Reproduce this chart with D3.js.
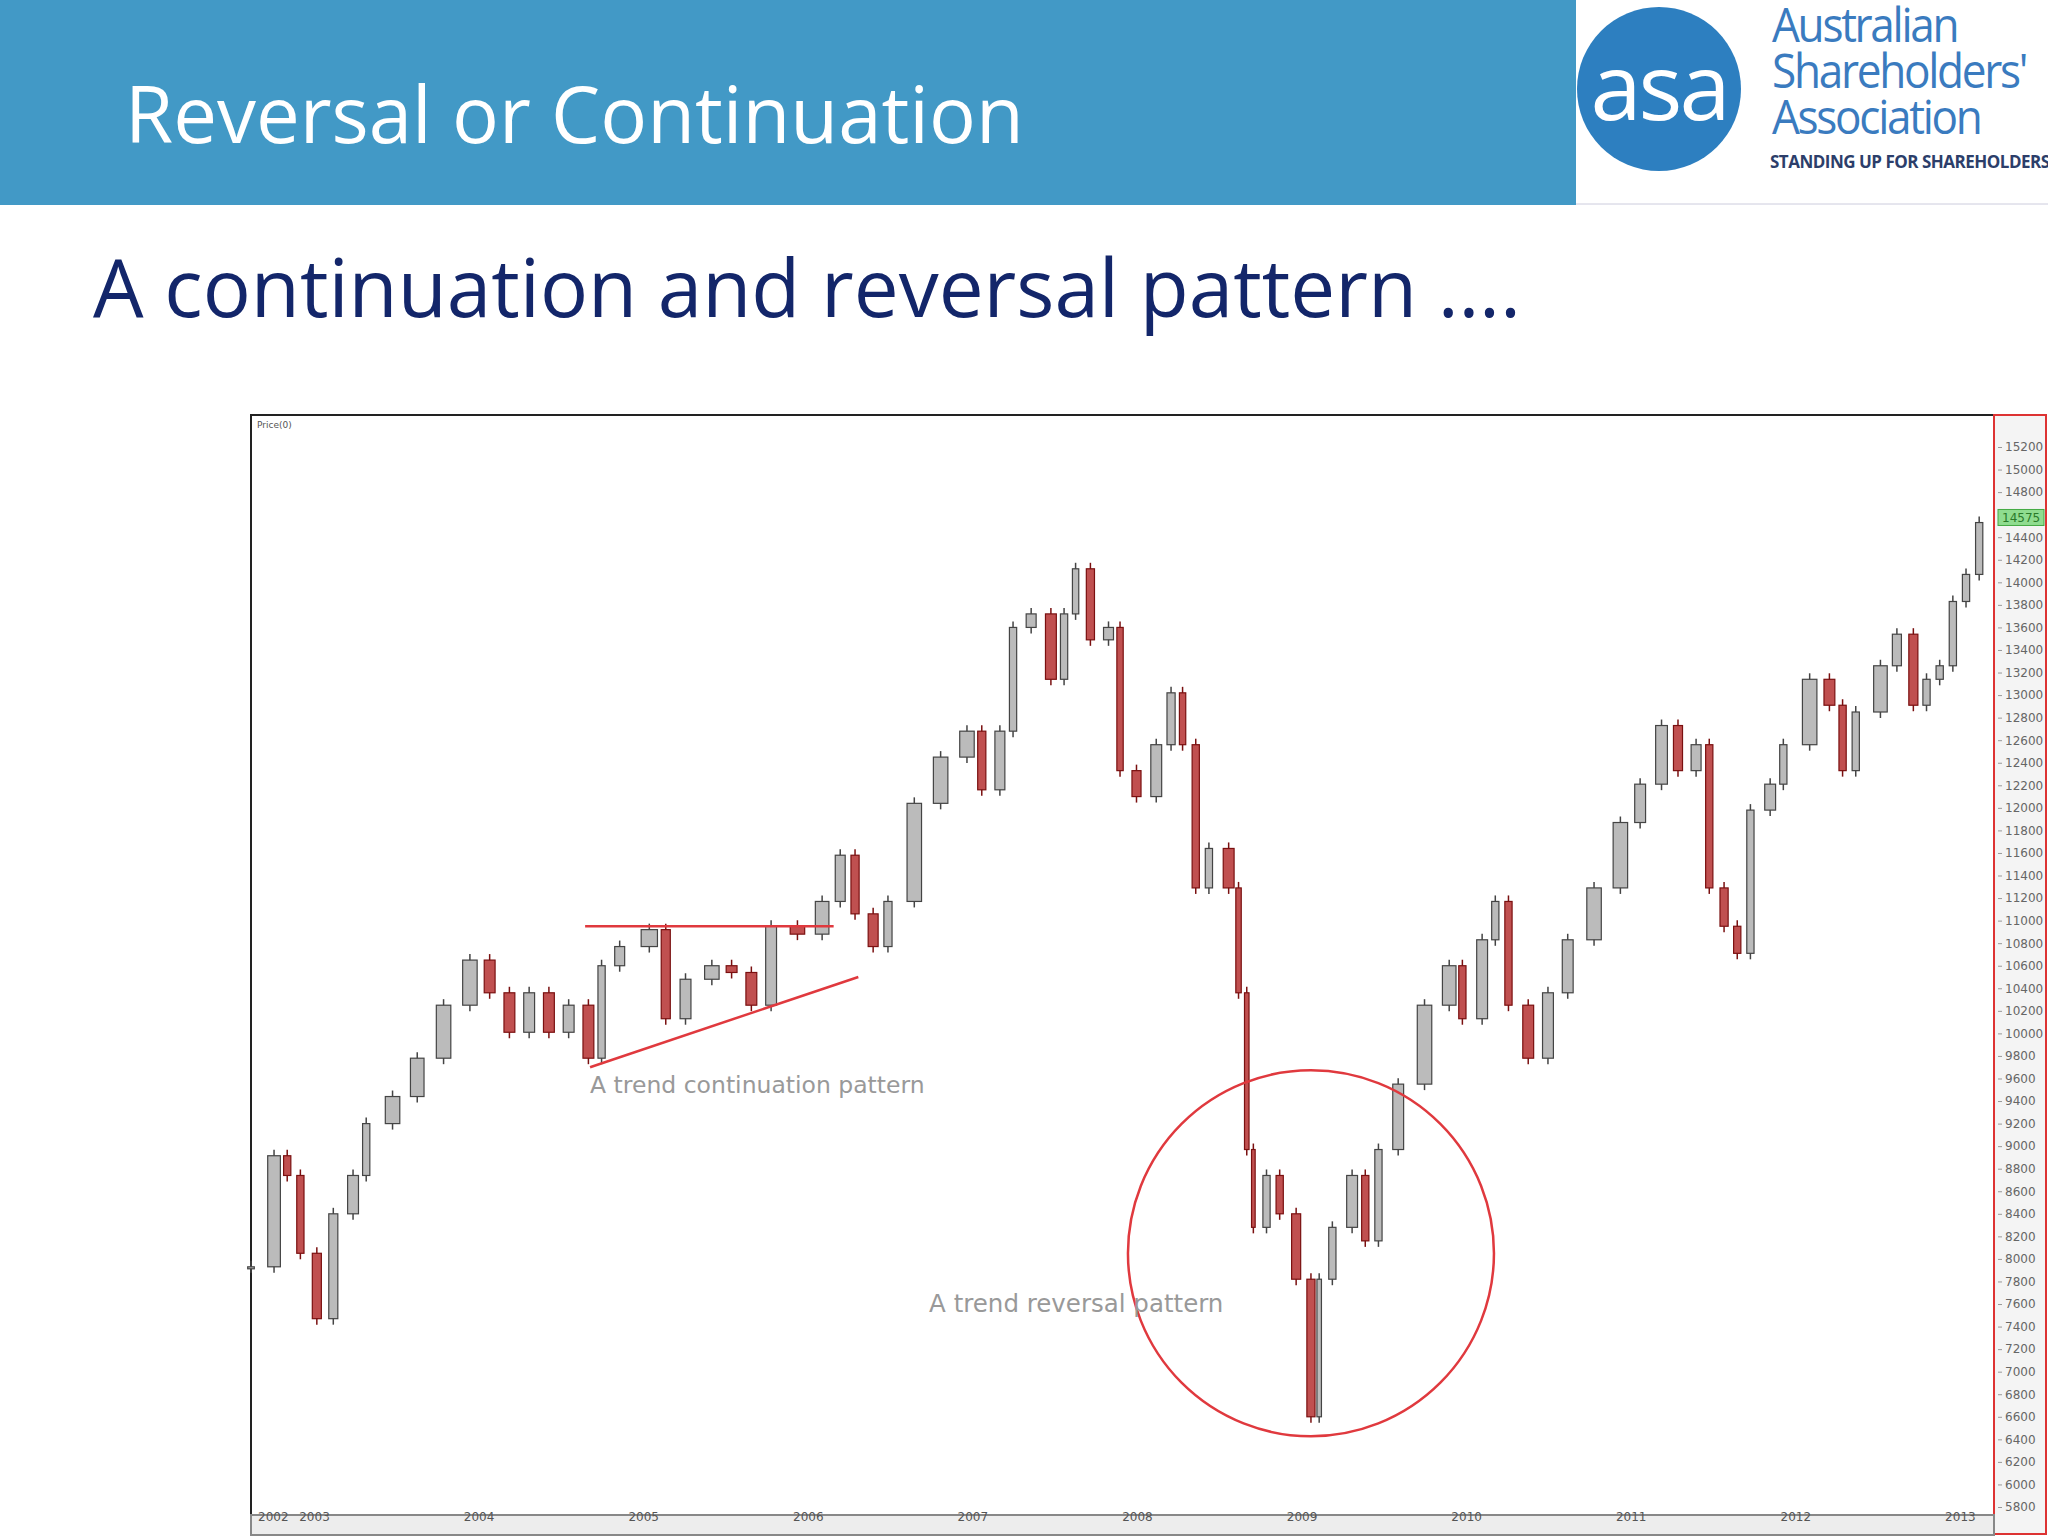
<!DOCTYPE html>
<html><head><meta charset="utf-8">
<script src="https://cdn.jsdelivr.net/npm/d3@7"></script>
<style>body{margin:0;background:#fff}svg{display:block}</style>
</head><body>
<svg id="c" width="2048" height="1536"></svg>
<script>
const years = [2002.66,2002.80,2002.88,2002.96,2003.06,2003.16,2003.28,2003.36,2003.52,2003.67,2003.83,2003.99,2004.11,2004.23,2004.35,2004.47,2004.59,2004.71,2004.79,2004.90,2005.08,2005.18,2005.30,2005.46,2005.58,2005.70,2005.82,2005.98,2006.13,2006.24,2006.33,2006.44,2006.53,2006.69,2006.85,2007.01,2007.10,2007.21,2007.29,2007.40,2007.52,2007.60,2007.67,2007.76,2007.87,2007.94,2008.04,2008.16,2008.25,2008.32,2008.40,2008.48,2008.60,2008.66,2008.71,2008.75,2008.83,2008.91,2009.01,2009.10,2009.15,2009.23,2009.35,2009.43,2009.51,2009.63,2009.79,2009.94,2010.02,2010.14,2010.22,2010.30,2010.42,2010.54,2010.66,2010.82,2010.98,2011.10,2011.23,2011.33,2011.44,2011.52,2011.61,2011.69,2011.77,2011.89,2011.97,2012.13,2012.25,2012.33,2012.41,2012.56,2012.66,2012.76,2012.84,2012.92,2013.00,2013.08,2013.16];
const closes = [7930,8915,8740,8050,7470,8400,8740,9200,9440,9780,10250,10650,10360,10010,10360,10010,10250,9780,10600,10770,10920,10130,10480,10600,10540,10250,10950,10880,11170,11580,11060,10770,11170,12040,12450,12680,12160,12680,13600,13720,13140,13720,14120,13490,13600,12330,12100,12560,13020,12560,11290,11640,11290,10360,8970,8280,8740,8400,7820,6600,7820,8280,8740,8160,8970,9550,10250,10600,10130,10830,11170,10250,9780,10360,10830,11290,11870,12210,12730,12330,12560,11290,10950,10710,11980,12210,12560,13140,12910,12330,12850,13260,13540,12910,13140,13260,13830,14070,14530];
const yTicks = d3.range(5800, 15201, 200);
const yearLabels = ["2002","2003","2004","2005","2006","2007","2008","2009","2010","2011","2012","2013"];
const yearLabelPos = [2002.70,2002.95,2003.95,2004.95,2005.95,2006.95,2007.95,2008.95,2009.95,2010.95,2011.95,2012.95];
const lastPrice = 14575;

const svg = d3.select("#c");
svg.append("rect").attr("x",0).attr("y",0).attr("width",1576).attr("height",205).attr("fill","#4299c6");
svg.append("text").attr("x",125).attr("y",143).attr("fill","#fff").attr("font-family","Open Sans").attr("font-size",78).text("Reversal or Continuation");
svg.append("circle").attr("cx",1659).attr("cy",89).attr("r",82).attr("fill","#2d7fc0");
svg.append("text").attr("x",1659).attr("y",120).attr("text-anchor","middle").attr("fill","#fff").attr("font-family","Open Sans").attr("font-size",92).attr("letter-spacing",-3).text("asa");
const lg = [["Australian",42],["Shareholders'",88],["Association",134]];
lg.forEach(d=>svg.append("text").attr("x",1772).attr("y",d[1]).attr("fill","#3a7bbf").attr("font-family","Open Sans").attr("font-size",48).attr("letter-spacing",-2.5).attr("transform",`translate(1772,0) scale(0.92,1) translate(-1772,0)`).text(d[0]));
svg.append("text").attr("x",1770).attr("y",168).attr("fill","#2c3e6a").attr("font-family","Open Sans").attr("font-size",17).attr("font-weight","bold").attr("letter-spacing",-0.5).text("STANDING UP FOR SHAREHOLDERS");
svg.append("line").attr("x1",1576).attr("x2",2048).attr("y1",204).attr("y2",204).attr("stroke","#ccd");
svg.append("text").attr("x",93).attr("y",317).attr("fill","#13266a").attr("font-family","Open Sans").attr("font-size",80).text("A continuation and reversal pattern ….");

const L=251, R=1994, T=415, B=1536;
const x = d3.scaleLinear().domain([2002.66, 2013.25]).range([L, R]);
const y = d3.scaleLinear().domain([5800, 15200]).range([1507, 447]);
svg.append("rect").attr("x",L).attr("y",T).attr("width",R-L).attr("height",B-T).attr("fill","#fff").attr("stroke","#222").attr("stroke-width",2);
svg.append("text").attr("x",L+6).attr("y",T+13).attr("font-family","DejaVu Sans").attr("font-size",9).attr("fill","#555").text("Price(0)");

svg.append("rect").attr("x",R).attr("y",T).attr("width",2046-R).attr("height",B-T-2).attr("fill","#f4f4f4").attr("stroke","#d33").attr("stroke-width",2);
const ya = svg.append("g").attr("transform",`translate(${R+4},0)`).call(d3.axisRight(y).tickValues(yTicks).tickSize(4).tickFormat(d3.format("d")));
ya.select(".domain").remove();
ya.selectAll("text").attr("font-family","DejaVu Sans").attr("font-size",12).attr("fill","#666");
ya.selectAll("line").attr("stroke","#999");
svg.append("rect").attr("x",R+4).attr("y",y(lastPrice)-8).attr("width",46).attr("height",16).attr("fill","#8fdc8f").attr("stroke","#4a4");
svg.append("text").attr("x",R+8).attr("y",y(lastPrice)+5).attr("font-family","DejaVu Sans").attr("font-size",12).attr("fill","#2a7a2a").text(lastPrice);

svg.append("rect").attr("x",L).attr("y",1515).attr("width",R-L).attr("height",20).attr("fill","#ededed").attr("stroke","#888").attr("stroke-width",2);
const xa = svg.append("g").attr("transform","translate(0,1515)").call(d3.axisBottom(x).tickValues(yearLabelPos).tickSize(0).tickFormat((d,i)=>yearLabels[i]));
xa.select(".domain").remove();
xa.selectAll("text").attr("font-family","DejaVu Sans").attr("font-size",12).attr("fill","#555").attr("text-anchor","start").attr("dy",3);

const data = years.map((t,i)=>({t, c:closes[i], o: i? closes[i-1] : closes[0]}));
const g = svg.append("g");
data.forEach((d,i)=>{
  const gap = i ? x(d.t)-x(years[i-1]) : 12;
  const w = Math.max(3, gap*0.55);
  const up = d.c >= d.o;
  const col = up ? "#444" : "#7a1010";
  const hi = Math.max(d.o,d.c), lo = Math.min(d.o,d.c);
  g.append("line").attr("x1",x(d.t)).attr("x2",x(d.t)).attr("y1",y(hi)-6).attr("y2",y(lo)+6).attr("stroke",col).attr("stroke-width",1.5);
  g.append("rect").attr("x",x(d.t)-w/2).attr("width",w).attr("y",y(hi)).attr("height",Math.max(2,y(lo)-y(hi)))
   .attr("fill", up ? "#bbb" : "#c05050").attr("stroke",col).attr("stroke-width",1.2);
});

const red="#e0393e";
svg.append("line").attr("x1",x(2004.69)).attr("x2",x(2006.20)).attr("y1",y(10950)).attr("y2",y(10950)).attr("stroke",red).attr("stroke-width",2.5);
svg.append("line").attr("x1",x(2004.72)).attr("x2",x(2006.35)).attr("y1",y(9700)).attr("y2",y(10500)).attr("stroke",red).attr("stroke-width",2.5);
svg.append("text").attr("x",x(2004.72)).attr("y",y(9470)).attr("font-family","DejaVu Sans").attr("font-size",23.5).attr("fill","#999").text("A trend continuation pattern");
svg.append("circle").attr("cx",x(2009.10)).attr("cy",y(8050)).attr("r",183).attr("fill","none").attr("stroke",red).attr("stroke-width",2.5);
svg.append("text").attr("x",x(2006.78)).attr("y",y(7530)).attr("font-family","DejaVu Sans").attr("font-size",24.5).attr("fill","#999").text("A trend reversal pattern");
</script>
</body></html>
